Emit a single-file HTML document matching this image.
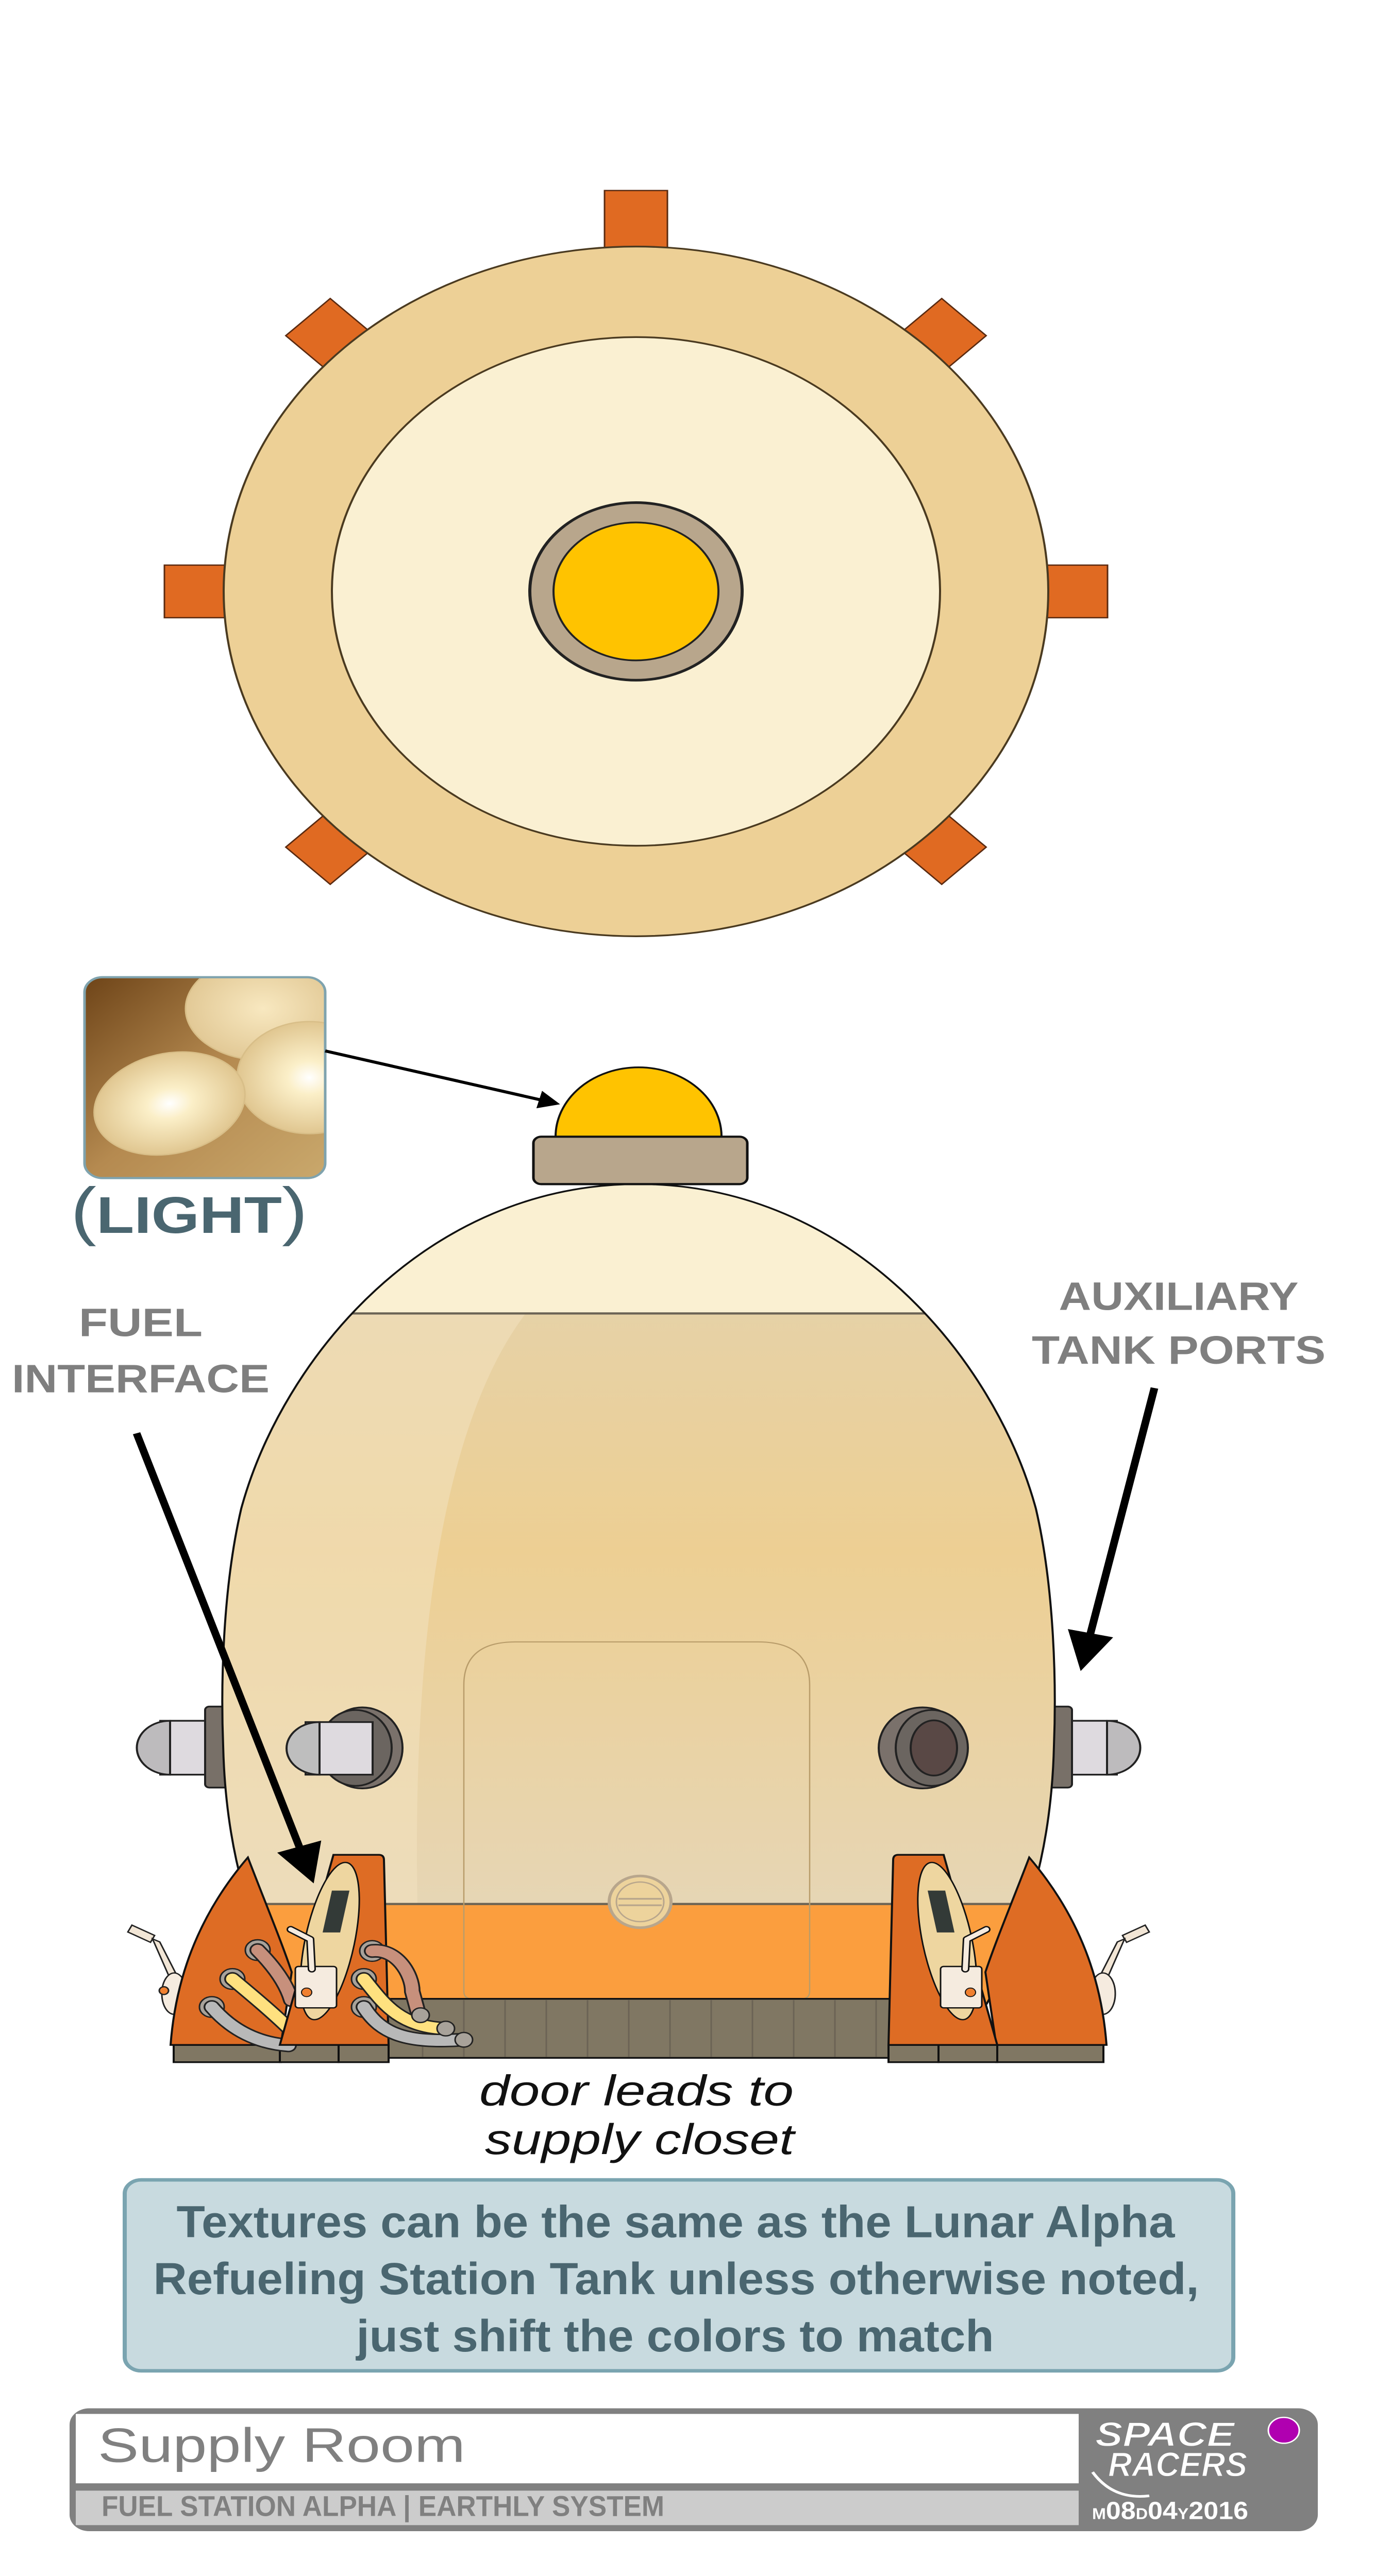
<!DOCTYPE html>
<html><head><meta charset="utf-8"><style>
html,body{margin:0;padding:0;background:#fff;width:100%;height:100%;overflow:hidden;}
svg{display:block;width:100vw;height:100vh;}
text{font-family:"Liberation Sans",sans-serif;}
</style></head><body>
<svg viewBox="0 0 2699 5976" preserveAspectRatio="none" xmlns="http://www.w3.org/2000/svg">
<defs>
<clipPath id="egg"><path d="M1239,2747 C1650,2747 1930,3150 2010,3500 C2045,3680 2050,3900 2045,4050 C2040,4300 1990,4480 1914,4650 L564,4650 C488,4480 438,4300 433,4050 C428,3900 433,3680 468,3500 C548,3150 828,2747 1239,2747 Z"/></clipPath>
<clipPath id="lbox"><rect x="164" y="2267" width="467" height="466" rx="35"/></clipPath>
<linearGradient id="liq" x1="0" y1="0" x2="0" y2="1">
<stop offset="0" stop-color="#E2D3B2"/><stop offset="0.45" stop-color="#EDCF93"/><stop offset="1" stop-color="#E4D8C0"/></linearGradient>
<linearGradient id="lbg" x1="0" y1="0" x2="1" y2="1">
<stop offset="0" stop-color="#6E4418"/><stop offset="0.5" stop-color="#B58A50"/><stop offset="1" stop-color="#C9A86C"/></linearGradient>
<radialGradient id="bulb"><stop offset="0" stop-color="#FFFFFF"/><stop offset="0.3" stop-color="#FBEFC8"/><stop offset="1" stop-color="#E0C690"/></radialGradient>
<radialGradient id="bulb2"><stop offset="0" stop-color="#F8E8C0"/><stop offset="1" stop-color="#E2C996"/></radialGradient>
<marker id="ah" markerWidth="6" markerHeight="6" refX="5" refY="3" orient="auto" markerUnits="strokeWidth"><path d="M0,0 L6,3 L0,6 Z" fill="#000"/></marker>
</defs>

<g transform="translate(1234,1372)" fill="#E06A22" stroke="#5a2a10" stroke-width="3">
<rect x="-61" y="-930" width="122" height="160"/>
<rect x="-61" y="-900" width="122" height="160" transform="rotate(45)"/>
<rect x="-61" y="-915" width="122" height="160" transform="rotate(90)"/>
<rect x="-61" y="-900" width="122" height="160" transform="rotate(135)"/>
<rect x="-61" y="-900" width="122" height="160" transform="rotate(225)"/>
<rect x="-61" y="-915" width="122" height="160" transform="rotate(270)"/>
<rect x="-61" y="-900" width="122" height="160" transform="rotate(315)"/>
</g>
<circle cx="1234" cy="1372" r="800" fill="#EDD096" stroke="#4a3a20" stroke-width="4"/>
<circle cx="1234" cy="1372" r="590" fill="#FAF0D2" stroke="#4a3a20" stroke-width="4"/>
<circle cx="1234" cy="1372" r="206" fill="#B8A68C" stroke="#222" stroke-width="6"/>
<circle cx="1234" cy="1372" r="160" fill="#FFC300" stroke="#222" stroke-width="4"/>

<g clip-path="url(#lbox)">
<rect x="164" y="2267" width="467" height="466" fill="url(#lbg)"/>
<ellipse cx="510" cy="2340" rx="150" ry="120" fill="url(#bulb2)" stroke="#D8BE88" stroke-width="3"/>
<ellipse cx="600" cy="2500" rx="140" ry="130" fill="url(#bulb)" stroke="#D8BE88" stroke-width="3"/>
<ellipse cx="329" cy="2560" rx="150" ry="115" fill="url(#bulb)" stroke="#D8BE88" stroke-width="3" transform="rotate(-20 329 2560)"/>
</g>
<rect x="164" y="2267" width="467" height="466" rx="35" fill="none" stroke="#7FA3AE" stroke-width="5"/>
<text x="367" y="2860" text-anchor="middle" font-weight="bold" fill="#4A6670" font-size="120"><tspan font-size="150" font-weight="normal">(</tspan>LIGHT<tspan font-size="150" font-weight="normal">)</tspan></text>

<g stroke="#222" stroke-width="4">
<rect x="311" y="3992" width="120" height="125" fill="#DEDADF"/>
<path d="M330,3992 A64,62 0 0 0 330,4117 Z" fill="#BDBBBD"/>
<rect x="398" y="3959" width="55" height="188" rx="8" fill="#787068"/>
<rect x="2047" y="3992" width="120" height="125" fill="#DEDADF"/>
<path d="M2148,3992 A64,62 0 0 1 2148,4117 Z" fill="#BDBBBD"/>
<rect x="2025" y="3959" width="55" height="188" rx="8" fill="#787068"/>
</g>

<g clip-path="url(#egg)">
<rect x="400" y="2700" width="1700" height="2000" fill="url(#liq)"/>
<path d="M400,3047 L1020,3047 C860,3300 800,3800 810,4417 L400,4417 Z" fill="#F2E2BF" opacity="0.55"/>
<rect x="400" y="2700" width="1700" height="347" fill="#FAF0D2"/>
<line x1="400" y1="3047" x2="2100" y2="3047" stroke="#6B6355" stroke-width="5"/>
<rect x="400" y="4417" width="1700" height="300" fill="#FB9E3E"/>
<line x1="400" y1="4417" x2="2100" y2="4417" stroke="#6B6355" stroke-width="5"/>
</g>
<path d="M1000,3809 L1471,3809 Q1571,3809 1571,3909 L1571,4620 Q1571,4637 1554,4637 L917,4637 Q900,4637 900,4620 L900,3909 Q900,3809 1000,3809 Z" fill="none" stroke="#B89C6A" stroke-width="2.5"/>
<circle cx="1242" cy="4412" r="60" fill="#EDD39C" stroke="#B8A68C" stroke-width="6"/>
<circle cx="1242" cy="4412" r="46" fill="none" stroke="#B8A68C" stroke-width="3"/>
<line x1="1200" y1="4405" x2="1284" y2="4405" stroke="#B8A68C" stroke-width="4"/>
<line x1="1200" y1="4420" x2="1284" y2="4420" stroke="#B8A68C" stroke-width="4"/>
<path d="M1239,2747 C1650,2747 1930,3150 2010,3500 C2045,3680 2050,3900 2045,4050 C2040,4300 1990,4480 1914,4650 M564,4650 C488,4480 438,4300 433,4050 C428,3900 433,3680 468,3500 C548,3150 828,2747 1239,2747" fill="none" stroke="#111" stroke-width="4"/>

<path d="M1078,2637 A161,161 0 0 1 1400,2637 Z" fill="#FFC300" stroke="#111" stroke-width="4"/>
<rect x="1035" y="2637" width="415" height="110" rx="15" fill="#B8A68C" stroke="#111" stroke-width="5"/>

<g stroke="#222" stroke-width="4">
<ellipse cx="703" cy="4055" rx="78" ry="94" fill="#7A716B"/>
<ellipse cx="690" cy="4055" rx="70" ry="88" fill="#6B6560"/>
<rect x="593" y="3995" width="130" height="122" fill="#DEDADF"/>
<path d="M620,3995 A64,61 0 0 0 620,4117 Z" fill="#BEBEBE"/>
<ellipse cx="1790" cy="4055" rx="85" ry="94" fill="#7A716B"/>
<ellipse cx="1808" cy="4055" rx="70" ry="88" fill="#6B6560"/>
<ellipse cx="1812" cy="4055" rx="45" ry="64" fill="#594845"/>
</g>

<rect x="740" y="4637" width="1010" height="137" fill="#807763" stroke="#111" stroke-width="4"/>
<g stroke="#6B6355" stroke-width="3">
<line x1="820" y1="4640" x2="820" y2="4772"/><line x1="900" y1="4640" x2="900" y2="4772"/><line x1="980" y1="4640" x2="980" y2="4772"/><line x1="1060" y1="4640" x2="1060" y2="4772"/><line x1="1140" y1="4640" x2="1140" y2="4772"/><line x1="1220" y1="4640" x2="1220" y2="4772"/><line x1="1300" y1="4640" x2="1300" y2="4772"/><line x1="1380" y1="4640" x2="1380" y2="4772"/><line x1="1460" y1="4640" x2="1460" y2="4772"/><line x1="1540" y1="4640" x2="1540" y2="4772"/><line x1="1620" y1="4640" x2="1620" y2="4772"/><line x1="1700" y1="4640" x2="1700" y2="4772"/>
</g>

<g>
<g stroke="#222" stroke-width="3">
<path d="M248,4482 L256,4466 L300,4490 L292,4506 Z" fill="#F2E6D6"/>
<path d="M296,4498 L310,4505 L342,4580 L328,4585 Z" fill="#F2E6D6"/>
<ellipse cx="338" cy="4625" rx="24" ry="48" fill="#F5EBDF"/>
<circle cx="318" cy="4618" r="9" fill="#F08030"/>
</g>
<rect x="337" y="4744" width="208" height="40" fill="#807763" stroke="#111" stroke-width="4"/>
<rect x="543" y="4744" width="114" height="40" fill="#807763" stroke="#111" stroke-width="4"/>
<rect x="657" y="4744" width="97" height="40" fill="#807763" stroke="#111" stroke-width="4"/>
<path d="M481,4309 C510,4400 545,4500 566,4575 L545,4744 L331,4744 C340,4600 380,4450 481,4309 Z" fill="#DE6C24" stroke="#111" stroke-width="4"/>
</g>
<g transform="translate(2478,0) scale(-1,1)">
<path d="M248,4482 L256,4466 L300,4490 L292,4506 Z" fill="#F2E6D6" stroke="#222" stroke-width="3"/>
<path d="M296,4498 L310,4505 L342,4580 L328,4585 Z" fill="#F2E6D6" stroke="#222" stroke-width="3"/>
<ellipse cx="338" cy="4625" rx="24" ry="48" fill="#F5EBDF" stroke="#222" stroke-width="3"/>
<rect x="337" y="4744" width="208" height="40" fill="#807763" stroke="#111" stroke-width="4"/>
<rect x="543" y="4744" width="114" height="40" fill="#807763" stroke="#111" stroke-width="4"/>
<rect x="657" y="4744" width="97" height="40" fill="#807763" stroke="#111" stroke-width="4"/>
<path d="M481,4309 C510,4400 545,4500 566,4575 L545,4744 L331,4744 C340,4600 380,4450 481,4309 Z" fill="#DE6C24" stroke="#111" stroke-width="4"/>
</g>

<g fill="none" stroke-linecap="round">
<circle cx="500" cy="4524" r="24" fill="#A8A29A" stroke="#222" stroke-width="3"/>
<circle cx="451" cy="4591" r="24" fill="#A8A29A" stroke="#222" stroke-width="3"/>
<circle cx="411" cy="4656" r="24" fill="#A8A29A" stroke="#222" stroke-width="3"/>
<path d="M500,4524 C530,4560 555,4600 565,4640" stroke="#222" stroke-width="32"/>
<path d="M500,4524 C530,4560 555,4600 565,4640" stroke="#C7907C" stroke-width="25"/>
<path d="M451,4591 C490,4630 530,4670 560,4705" stroke="#222" stroke-width="32"/>
<path d="M451,4591 C490,4630 530,4670 560,4705" stroke="#FFE17F" stroke-width="25"/>
<path d="M411,4656 C450,4710 500,4740 560,4745" stroke="#222" stroke-width="32"/>
<path d="M411,4656 C450,4710 500,4740 560,4745" stroke="#B8B8B8" stroke-width="25"/>
</g>

<g>
<path d="M647,4303 L735,4303 Q745,4303 745,4315 L754,4744 L543,4744 Z" fill="#DE6C24" stroke="#111" stroke-width="4"/>
<ellipse cx="640" cy="4503" rx="48" ry="185" transform="rotate(10 640 4503)" fill="#EED6A0" stroke="#111" stroke-width="3"/>
<path d="M644,4386 L678,4386 L660,4483 L626,4483 Z" fill="#333A37"/>
<rect x="573" y="4562" width="80" height="96" rx="6" fill="#F5EBDF" stroke="#111" stroke-width="3"/>
<circle cx="595" cy="4622" r="10" fill="#F08030" stroke="#111" stroke-width="2"/>
<path d="M564,4476 L602,4499 L605,4568" fill="none" stroke="#111" stroke-width="16" stroke-linecap="round" stroke-linejoin="round"/>
<path d="M564,4476 L602,4499 L605,4568" fill="none" stroke="#F5EBDF" stroke-width="10" stroke-linecap="round" stroke-linejoin="round"/>
</g>
<g transform="translate(2478,0) scale(-1,1)">
<path d="M647,4303 L735,4303 Q745,4303 745,4315 L754,4744 L543,4744 Z" fill="#DE6C24" stroke="#111" stroke-width="4"/>
<ellipse cx="640" cy="4503" rx="48" ry="185" transform="rotate(10 640 4503)" fill="#EED6A0" stroke="#111" stroke-width="3"/>
<path d="M644,4386 L678,4386 L660,4483 L626,4483 Z" fill="#333A37"/>
<rect x="573" y="4562" width="80" height="96" rx="6" fill="#F5EBDF" stroke="#111" stroke-width="3"/>
<circle cx="595" cy="4622" r="10" fill="#F08030" stroke="#111" stroke-width="2"/>
<path d="M564,4476 L602,4499 L605,4568" fill="none" stroke="#111" stroke-width="16" stroke-linecap="round" stroke-linejoin="round"/>
<path d="M564,4476 L602,4499 L605,4568" fill="none" stroke="#F5EBDF" stroke-width="10" stroke-linecap="round" stroke-linejoin="round"/>
</g>

<g fill="none" stroke-linecap="round">
<circle cx="722" cy="4526" r="24" fill="#A8A29A" stroke="#222" stroke-width="3"/>
<circle cx="706" cy="4591" r="24" fill="#A8A29A" stroke="#222" stroke-width="3"/>
<circle cx="706" cy="4656" r="24" fill="#A8A29A" stroke="#222" stroke-width="3"/>
<path d="M722,4526 C770,4520 800,4580 800,4620 L812,4672" stroke="#222" stroke-width="32"/>
<path d="M722,4526 C770,4520 800,4580 800,4620 L812,4672" stroke="#C7907C" stroke-width="25"/>
<path d="M706,4591 C740,4640 770,4700 860,4706" stroke="#222" stroke-width="32"/>
<path d="M706,4591 C740,4640 770,4700 860,4706" stroke="#FFE17F" stroke-width="25"/>
<path d="M706,4656 C740,4720 790,4740 895,4732" stroke="#222" stroke-width="32"/>
<path d="M706,4656 C740,4720 790,4740 895,4732" stroke="#B8B8B8" stroke-width="25"/>
<circle cx="816" cy="4675" r="17" fill="#A8A29A" stroke="#222" stroke-width="3"/>
<circle cx="865" cy="4706" r="17" fill="#A8A29A" stroke="#222" stroke-width="3"/>
<circle cx="900" cy="4732" r="17" fill="#A8A29A" stroke="#222" stroke-width="3"/>
</g>

<line x1="631" y1="2438" x2="1080" y2="2560" stroke="#000" stroke-width="7" marker-end="url(#ah)"/>
<line x1="265" y1="3325" x2="604" y2="4355" stroke="#000" stroke-width="15" marker-end="url(#ah)"/>
<line x1="2240" y1="3220" x2="2100" y2="3862" stroke="#000" stroke-width="15" marker-end="url(#ah)"/>

<g font-weight="bold" fill="#7F7F7F" font-size="92" text-anchor="middle">
<text x="273" y="3100">FUEL</text>
<text x="273" y="3230" textLength="500" lengthAdjust="spacingAndGlyphs">INTERFACE</text>
<text x="2287" y="3039" textLength="465" lengthAdjust="spacingAndGlyphs">AUXILIARY</text>
<text x="2287" y="3164" textLength="570" lengthAdjust="spacingAndGlyphs">TANK PORTS</text>
</g>
<g fill="#111" font-size="100" font-style="italic" text-anchor="middle">
<text x="1235" y="4884" textLength="610" lengthAdjust="spacingAndGlyphs">door leads to</text>
<text x="1241" y="4997" textLength="600" lengthAdjust="spacingAndGlyphs">supply closet</text>
</g>

<rect x="242" y="5057" width="2151" height="443" rx="32" fill="#C8DADF" stroke="#7AA4B0" stroke-width="8"/>
<g font-weight="bold" fill="#4A6670" font-size="104" text-anchor="middle">
<text x="1311" y="5190" textLength="1937" lengthAdjust="spacingAndGlyphs">Textures can be the same as the Lunar Alpha</text>
<text x="1312" y="5322" textLength="2029" lengthAdjust="spacingAndGlyphs">Refueling Station Tank unless otherwise noted,</text>
<text x="1310" y="5455" textLength="1237" lengthAdjust="spacingAndGlyphs">just shift the colors to match</text>
</g>

<rect x="135" y="5587" width="2422" height="285" rx="38" fill="#808080"/>
<rect x="147" y="5600" width="1946" height="161" fill="#FFFFFF"/>
<rect x="147" y="5778" width="1946" height="80" fill="#CCCCCC"/>
<text x="190" y="5711" font-size="112" fill="#808080" textLength="713" lengthAdjust="spacingAndGlyphs">Supply Room</text>
<text x="197" y="5837" font-size="66" font-weight="bold" fill="#808080" textLength="1092" lengthAdjust="spacingAndGlyphs">FUEL STATION ALPHA | EARTHLY SYSTEM</text>
<g fill="#FFFFFF" font-weight="bold" font-style="italic" stroke="#808080" stroke-width="2">
<text x="2125" y="5675" font-size="80" textLength="270" lengthAdjust="spacingAndGlyphs">SPACE</text>
<text x="2150" y="5745" font-size="80" textLength="270" lengthAdjust="spacingAndGlyphs">RACERS</text>
</g>
<path d="M2120,5735 Q2160,5800 2230,5790" fill="none" stroke="#fff" stroke-width="6"/>
<circle cx="2491" cy="5638" r="30" fill="#B000B0" stroke="#fff" stroke-width="3"/>
<text x="2119" y="5844" font-size="58" font-weight="bold" fill="#FFFFFF" textLength="303" lengthAdjust="spacingAndGlyphs"><tspan font-size="36">M</tspan>08<tspan font-size="36">D</tspan>04<tspan font-size="36">Y</tspan>2016</text>
</svg>
</body></html>
